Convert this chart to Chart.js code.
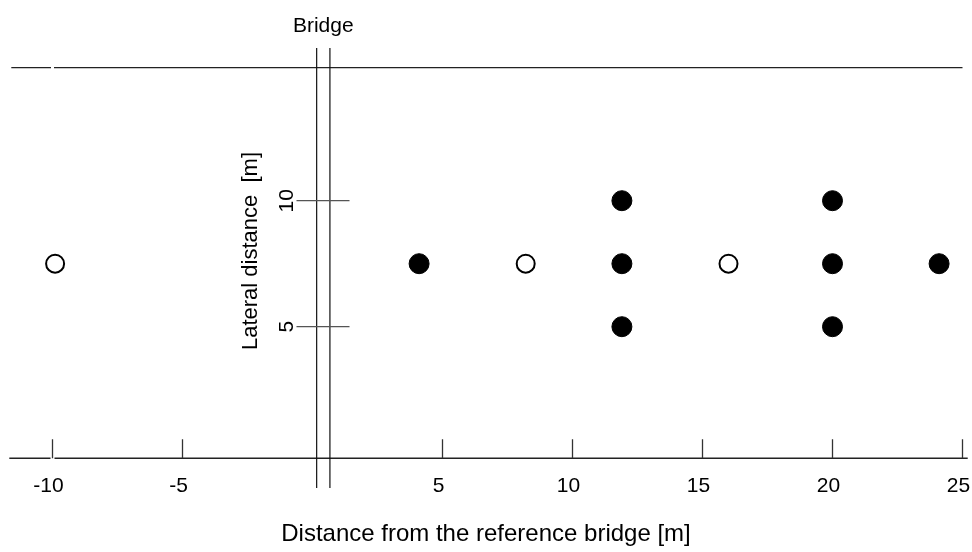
<!DOCTYPE html>
<html>
<head>
<meta charset="utf-8">
<script src="https://cdn.jsdelivr.net/npm/chart.js@4/dist/chart.umd.min.js"></script>
<style>
  body { margin: 0; background: #fff; }
  canvas { display: block; }
</style>
</head>
<body>
<canvas id="myChart" width="972" height="552"></canvas>
<script>
var openX = [-9.9, 8.2, 16.0];
var openY = [7.5, 7.5, 7.5];
var filledX = [4.1, 11.9, 11.9, 11.9, 20.0, 20.0, 20.0, 24.1];
var filledY = [7.5, 10, 7.5, 5, 10, 7.5, 5, 7.5];

var xTicks = [-10, -5, 5, 10, 15, 20, 25];
var yTicks = [5, 10];
var bridgeX = [0.16, 0.67];

var xTitle = 'Distance from the reference bridge [m]';
var yTitle = 'Lateral distance  [m]';
var bridgeLabel = 'Bridge';

var FONT = '"Liberation Sans", Arial, sans-serif';

function toPoints(xs, ys) {
  return xs.map(function (x, i) { return { x: x, y: ys[i] }; });
}

// axis lines, bridge and labels drawn by hand around the scatter
var framePlugin = {
  id: 'frame',
  beforeDatasetsDraw: function (chart) {
    var ctx = chart.ctx;
    var xs = chart.scales.x, ys = chart.scales.y;
    var x0 = xs.getPixelForValue(0);
    var gapX = xs.getPixelForValue(-10);
    var left = xs.getPixelForValue(xs.min), right = xs.getPixelForValue(xs.max);
    var topY = ys.getPixelForValue(15.28);
    var botY = ys.getPixelForValue(-0.22);

    ctx.save();
    ctx.strokeStyle = '#222';
    ctx.lineWidth = 1.3;

    // top line (small gap at -10)
    ctx.beginPath();
    ctx.moveTo(left + 3, topY); ctx.lineTo(gapX - 1.5, topY);
    ctx.moveTo(gapX + 1.5, topY); ctx.lineTo(xs.getPixelForValue(25), topY);
    ctx.stroke();

    // bottom axis line
    ctx.beginPath();
    ctx.moveTo(left + 1, botY); ctx.lineTo(gapX - 2, botY);
    ctx.moveTo(gapX + 2, botY); ctx.lineTo(right, botY);
    ctx.stroke();

    // bottom ticks
    ctx.strokeStyle = '#333';
    xTicks.forEach(function (t) {
      var px = xs.getPixelForValue(t);
      ctx.beginPath();
      ctx.moveTo(px, botY); ctx.lineTo(px, botY - 19);
      ctx.stroke();
    });

    // bridge lines
    ctx.strokeStyle = '#111';
    ctx.lineWidth = 1.2;
    bridgeX.forEach(function (b) {
      var px = xs.getPixelForValue(b);
      ctx.beginPath();
      ctx.moveTo(px, ys.getPixelForValue(16.06));
      ctx.lineTo(px, ys.getPixelForValue(-1.4));
      ctx.stroke();
    });

    // y ticks crossing the bridge
    ctx.strokeStyle = '#555';
    yTicks.forEach(function (t) {
      var py = ys.getPixelForValue(t);
      ctx.beginPath();
      ctx.moveTo(x0 - 16, py); ctx.lineTo(x0 + 37, py);
      ctx.stroke();
    });

    // text
    ctx.fillStyle = '#000';
    ctx.font = '21px ' + FONT;
    ctx.textAlign = 'center';
    ctx.textBaseline = 'alphabetic';
    xTicks.forEach(function (t) {
      ctx.fillText(String(t), xs.getPixelForValue(t) - 4, botY + 34);
    });
    ctx.fillText(bridgeLabel, xs.getPixelForValue((bridgeX[0] + bridgeX[1]) / 2), 32);

    yTicks.forEach(function (t) {
      ctx.save();
      ctx.translate(x0 - 20, ys.getPixelForValue(t));
      ctx.rotate(-Math.PI / 2);
      ctx.fillText(String(t), 0, 0);
      ctx.restore();
    });

    ctx.font = '22px ' + FONT;
    ctx.save();
    ctx.translate(257, 251);
    ctx.rotate(-Math.PI / 2);
    ctx.fillText(yTitle, 0, 0);
    ctx.restore();

    ctx.font = '24px ' + FONT;
    ctx.fillText(xTitle, 486, 541);
    ctx.restore();
  }
};

var ctx = document.getElementById('myChart').getContext('2d');
var chart = new Chart(ctx, {
  type: 'scatter',
  data: {
    datasets: [{
      label: 'open',
      data: toPoints(openX, openY),
      pointRadius: 9,
      pointBorderWidth: 2,
      backgroundColor: '#fff',
      borderColor: '#000'
    }, {
      label: 'filled',
      data: toPoints(filledX, filledY),
      pointRadius: 10,
      pointBorderWidth: 1,
      backgroundColor: '#000',
      borderColor: '#000'
    }]
  },
  options: {
    responsive: false,
    animation: false,
    layout: { autoPadding: false, padding: { left: 8.3, right: 4.3, top: 24.3, bottom: 48.9 } },
    plugins: { legend: { display: false }, tooltip: { enabled: false } },
    scales: {
      x: { type: 'linear', display: false, min: -11.7, max: 25.2 },
      y: { type: 'linear', display: false, min: -2, max: 17 }
    }
  },
  plugins: [framePlugin]
});
</script>
</body>
</html>
